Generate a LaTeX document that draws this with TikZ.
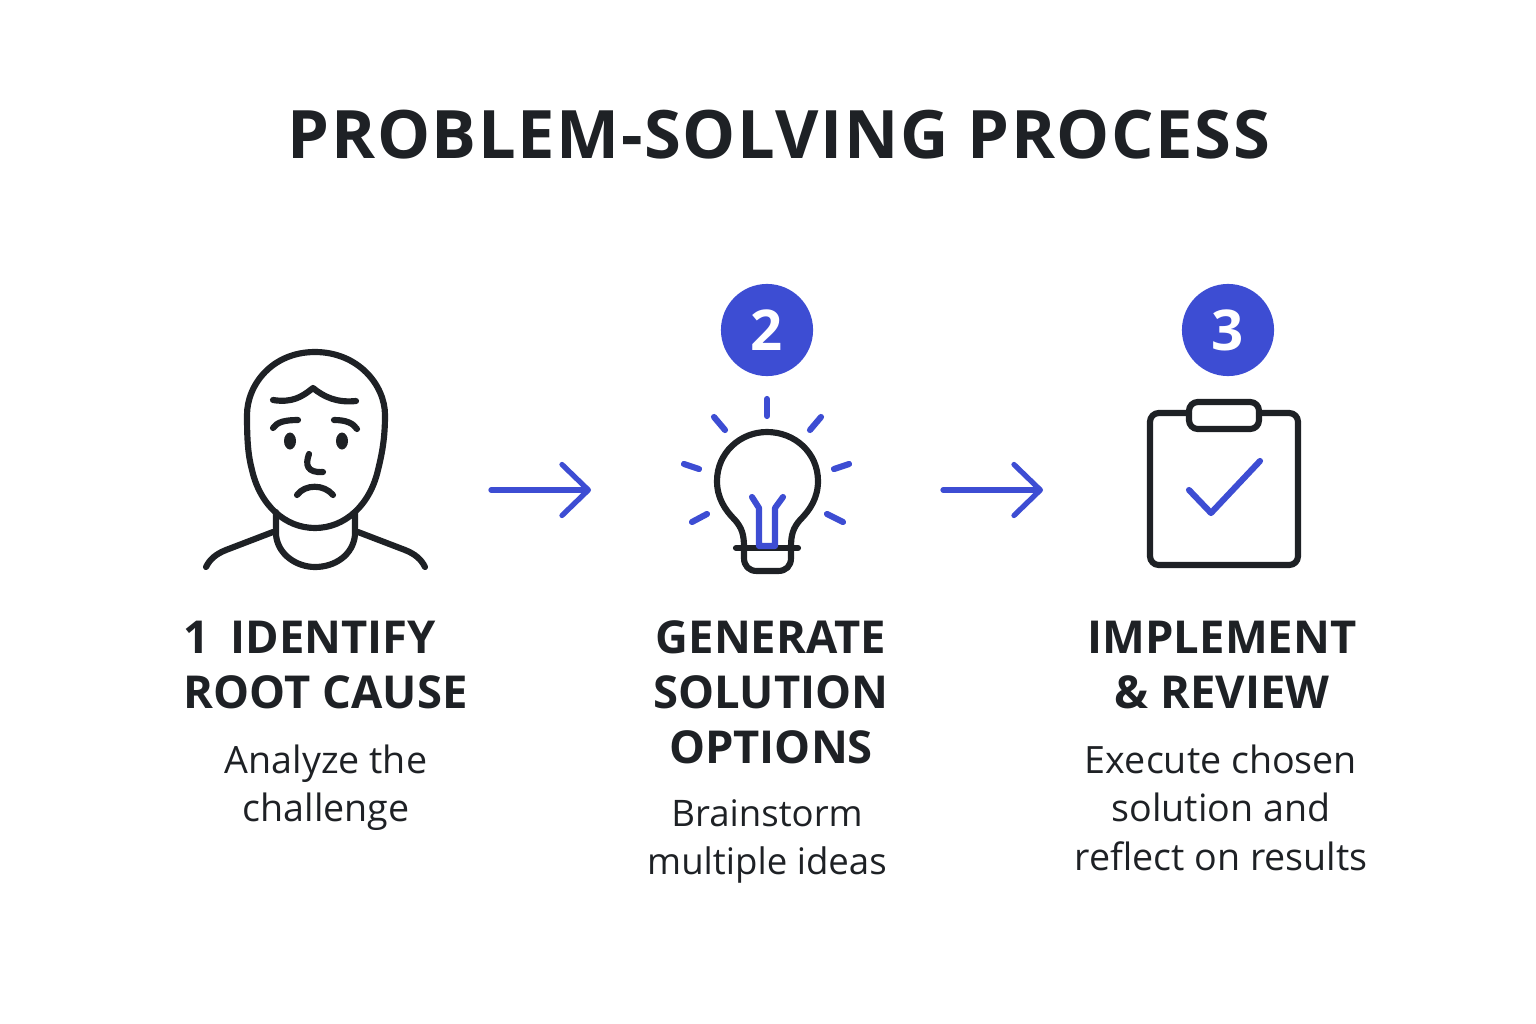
\documentclass[tikz,border=0pt]{standalone}
\usepackage{fontspec}
\setmainfont{Open Sans}
\usetikzlibrary{arrows.meta}
\definecolor{inkdark}{HTML}{1E2125}
\definecolor{stepblue}{HTML}{3D4DD3}
\tikzset{
	iconline/.style={draw=inkdark, line width=1.75pt, line cap=round, line join=round},
	blueline/.style={draw=stepblue, line width=1.75pt, line cap=round, line join=round},
	badge/.style={circle, fill=stepblue, minimum size=26.2pt, inner sep=0pt, text=white, font=\fontsize{16}{16}\selectfont\bfseries},
	heading/.style={text=inkdark, inner sep=0pt, font=\fontsize{12.9}{15.7}\selectfont\bfseries},
	bodytext/.style={text=inkdark, inner sep=0pt, font=\fontsize{10.7}{13.75}\selectfont},
	stepflow/.style={draw=stepblue, line width=1.5pt, line cap=round, -{Straight Barb[round, length=7.5pt, width=14.5pt, line width=1.5pt]}}
}
\begin{document}
\begin{tikzpicture}[x=0.01cm, y=-0.01cm]
	\useasboundingbox (0,0) rectangle (1536,1024);

	% Title
	\node[text=inkdark, inner sep=0pt, font=\fontsize{19}{20}\selectfont\bfseries\addfontfeature{LetterSpace=2.4}] (title) at (779,135) {PROBLEM-SOLVING PROCESS};

	% Face icon
	\draw[iconline] (315,352) .. controls (272,352) and (247,385) .. (247,415)
		.. controls (247,440) and (248,455) .. (252,470)
		.. controls (260,505) and (285,528) .. (315,528)
		.. controls (345,528) and (370,505) .. (378,470)
		.. controls (383,450) and (385,435) .. (385,415)
		.. controls (385,385) and (358,352) .. (315,352) -- cycle;
	\draw[iconline] (276,512) -- (276,535) .. controls (278,555) and (297,567) .. (315,567)
		.. controls (335,567) and (353,555) .. (355,535) -- (355,512);
	\draw[iconline] (273,532) -- (226,550) .. controls (216,554) and (210,559) .. (206,567);
	\draw[iconline] (358,532) -- (405,550) .. controls (415,554) and (421,559) .. (425,567);
	\draw[iconline] (273,400) .. controls (292,403) and (302,397) .. (313,388) .. controls (324,397) and (337,403) .. (356,401);
	\draw[iconline] (273,428) .. controls (277,422) and (285,420) .. (298,420);
	\draw[iconline] (334,420) .. controls (346,420) and (353,423) .. (357,429);
	\fill[inkdark] (290,441) ellipse (6 and 8.5);
	\fill[inkdark] (342,441) ellipse (6 and 8.5);
	\draw[iconline] (309,454) .. controls (305,465) and (307,473) .. (323,472);
	\draw[iconline] (297,495) .. controls (305,484) and (324,484) .. (333,495);

	% Bulb icon
	\draw[iconline] (744,547) .. controls (744,535) and (742,528) .. (735,520)
		.. controls (725,510) and (717,498) .. (717,481)
		.. controls (717,453) and (740,432) .. (767,432)
		.. controls (795,432) and (818,453) .. (818,481)
		.. controls (818,498) and (810,510) .. (800,520)
		.. controls (793,528) and (791,535) .. (791,547);
	\draw[iconline] (744,548) -- (744,558) .. controls (744,566) and (749,571) .. (757,571) -- (778,571)
		.. controls (786,571) and (791,566) .. (791,558) -- (791,548);
	\draw[iconline] (736,548) -- (798,548);
	\draw[blueline] (752,497) -- (759,508) -- (759,546) -- (775,546) -- (775,508) -- (783,497);

	% Rays around the bulb
	\foreach \xa/\ya/\xb/\yb in {767/399/767/416, 714/417/725/430, 821/417/810/430, 684/464/699/469, 849/464/834/469, 692/522/707/514, 843/522/827/514} {
		\draw[blueline] (\xa,\ya) -- (\xb,\yb);
	}

	% Clipboard icon
	\draw[iconline, rounded corners=2.5pt] (1189,413) -- (1150,413) -- (1150,565) -- (1298,565) -- (1298,413) -- (1259,413);
	\draw[iconline, rounded corners=2.5pt] (1189,402) rectangle (1259,429);
	\draw[blueline] (1189,490) -- (1211,513) -- (1260,461);

	% Number badges
	\node[badge] (badgetwo) at (767,330) {2};
	\node[badge] (badgethree) at (1228,330) {3};

	% Arrows between steps
	\coordinate (flowAstart) at (491,490);
	\coordinate (flowAend) at (591,490);
	\coordinate (flowBstart) at (943,490);
	\coordinate (flowBend) at (1043,490);
	\draw[stepflow] (flowAstart) -- (flowAend);
	\draw[stepflow] (flowBstart) -- (flowBend);

	% Step headings
	\node[heading, align=left, anchor=north west] (headone) at (183,620) {1\hspace{0.46em}IDENTIFY\\ROOT CAUSE};
	\node[heading, align=center, anchor=north] (headtwo) at (771,620) {GENERATE\\SOLUTION\\OPTIONS};
	\node[heading, align=center, anchor=north] (headthree) at (1222,620) {IMPLEMENT\\\& REVIEW};

	% Step descriptions
	\node[bodytext, align=center, anchor=north] (bodyone) at (326,744) {Analyze the\\challenge};
	\node[bodytext, align=center, anchor=north, font=\fontsize{10.4}{13.75}\selectfont] (bodytwo) at (767,799) {Brainstorm\\multiple ideas};
	\node[bodytext, align=center, anchor=north] (bodythree) at (1221,744) {Execute chosen\\solution and\\reflect on results};
\end{tikzpicture}
\end{document}
